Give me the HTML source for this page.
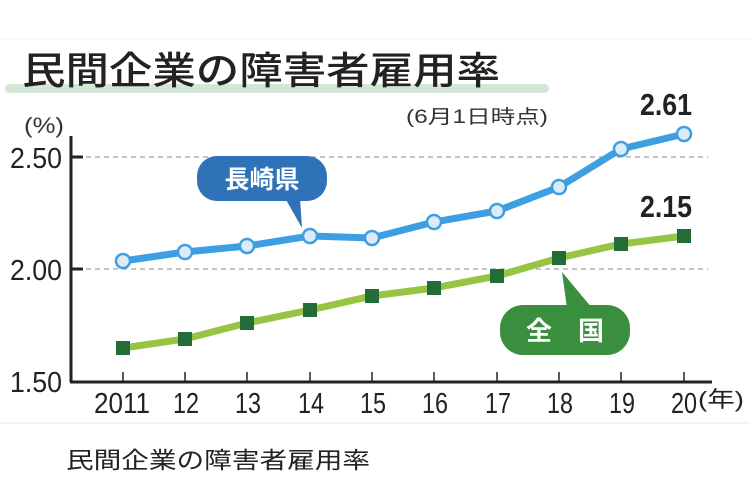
<!DOCTYPE html>
<html><head><meta charset="utf-8"><style>
html,body{margin:0;padding:0;background:#fff;width:750px;height:504px;overflow:hidden}
svg{display:block}
text{font-family:"Liberation Sans","Noto Sans CJK JP",sans-serif}
</style></head><body>
<svg width="750" height="504" viewBox="0 0 750 504" xmlns="http://www.w3.org/2000/svg">
<line x1="0" y1="39" x2="750" y2="39" stroke="#f0f0f0" stroke-width="1"/>
<line x1="0" y1="423" x2="750" y2="423" stroke="#f0f0f0" stroke-width="1.5"/>
<rect x="5" y="84" width="544" height="9" rx="4.5" fill="#d6e6d6"/>
<text x="22" y="84" font-size="38" font-weight="500" fill="#222" font-family="Noto Sans CJK JP, sans-serif" textLength="478" lengthAdjust="spacingAndGlyphs">民間企業の障害者雇用率</text>
<text x="406" y="123" font-size="19" fill="#333" font-family="Noto Sans CJK JP, sans-serif" textLength="142" lengthAdjust="spacingAndGlyphs">(6月1日時点)</text>
<text x="24" y="133" font-size="22" fill="#333" textLength="40" lengthAdjust="spacingAndGlyphs">(%)</text>
<g stroke="#888" stroke-width="1" stroke-dasharray="5,4">
<line x1="86" y1="157" x2="708" y2="157"/>
<line x1="86" y1="269" x2="708" y2="269"/>
</g>
<g stroke="#222" stroke-width="3" fill="none">
<line x1="71" y1="136" x2="71" y2="382"/>
<line x1="70" y1="382" x2="712" y2="382"/>
<line x1="71" y1="157" x2="83" y2="157"/>
<line x1="71" y1="269" x2="83" y2="269"/>
</g>
<g stroke="#222" stroke-width="1.5">
<line x1="123" y1="382" x2="123" y2="372"/><line x1="185" y1="382" x2="185" y2="372"/><line x1="247" y1="382" x2="247" y2="372"/><line x1="310" y1="382" x2="310" y2="372"/><line x1="372" y1="382" x2="372" y2="372"/><line x1="434" y1="382" x2="434" y2="372"/><line x1="497" y1="382" x2="497" y2="372"/><line x1="559" y1="382" x2="559" y2="372"/><line x1="621" y1="382" x2="621" y2="372"/><line x1="684" y1="382" x2="684" y2="372"/>
</g>
<g font-size="29" fill="#222" text-anchor="end">
<text x="62" y="168" textLength="52" lengthAdjust="spacingAndGlyphs">2.50</text>
<text x="62" y="280" textLength="52" lengthAdjust="spacingAndGlyphs">2.00</text>
<text x="62" y="392" textLength="52" lengthAdjust="spacingAndGlyphs">1.50</text>
</g>
<g font-size="29" fill="#222" text-anchor="middle">
<text x="122" y="413" textLength="56" lengthAdjust="spacingAndGlyphs">2011</text>
<text x="186" y="413" textLength="26" lengthAdjust="spacingAndGlyphs">12</text>
<text x="248" y="413" textLength="26" lengthAdjust="spacingAndGlyphs">13</text>
<text x="311" y="413" textLength="26" lengthAdjust="spacingAndGlyphs">14</text>
<text x="373" y="413" textLength="26" lengthAdjust="spacingAndGlyphs">15</text>
<text x="435" y="413" textLength="26" lengthAdjust="spacingAndGlyphs">16</text>
<text x="498" y="413" textLength="26" lengthAdjust="spacingAndGlyphs">17</text>
<text x="560" y="413" textLength="26" lengthAdjust="spacingAndGlyphs">18</text>
<text x="622" y="413" textLength="26" lengthAdjust="spacingAndGlyphs">19</text>
<text x="684" y="413" textLength="26" lengthAdjust="spacingAndGlyphs">20</text>
</g>
<text x="698" y="407" font-size="22" fill="#222" font-family="Noto Sans CJK JP, sans-serif" textLength="46" lengthAdjust="spacingAndGlyphs">(年)</text>
<polyline fill="none" stroke="#97c443" stroke-width="7" points="123,348 185,339 247,323 310,310 372,296 434,288 497,276 559,258 621,244 684,236"/>
<g fill="#236b37">
<rect x="116" y="341" width="14" height="14"/><rect x="178" y="332" width="14" height="14"/><rect x="240" y="316" width="14" height="14"/><rect x="303" y="303" width="14" height="14"/><rect x="365" y="289" width="14" height="14"/><rect x="427" y="281" width="14" height="14"/><rect x="490" y="269" width="14" height="14"/><rect x="552" y="251" width="14" height="14"/><rect x="614" y="237" width="14" height="14"/><rect x="677" y="229" width="14" height="14"/>
</g>
<polyline fill="none" stroke="#3d9ee2" stroke-width="7" points="123,261 185,252 247,246 310,236 372,238 434,222 497,211 559,187 621,149 684,134"/>
<g fill="#dcebf8" stroke="#3d9ee2" stroke-width="2.5">
<circle cx="123" cy="261" r="7"/><circle cx="185" cy="252" r="7"/><circle cx="247" cy="246" r="7"/><circle cx="310" cy="236" r="7"/><circle cx="372" cy="238" r="7"/><circle cx="434" cy="222" r="7"/><circle cx="497" cy="211" r="7"/><circle cx="559" cy="187" r="7"/><circle cx="621" cy="149" r="7"/><circle cx="684" cy="134" r="7"/>
</g>
<g font-size="31" font-weight="bold" fill="#222" text-anchor="middle">
<text x="666" y="115" textLength="52" lengthAdjust="spacingAndGlyphs">2.61</text>
<text x="666" y="217" textLength="52" lengthAdjust="spacingAndGlyphs">2.15</text>
</g>
<path d="M285,198 L302,228 L300,198 Z" fill="#2f72b8"/>
<rect x="197" y="156" width="130" height="45" rx="20" fill="#2f72b8"/>
<text x="262" y="188" font-size="25" font-weight="bold" fill="#fff" text-anchor="middle" font-family="Noto Sans CJK JP, sans-serif">長崎県</text>
<path d="M562,272 L567,308 L592,308 Z" fill="#3a8f3e"/>
<rect x="500" y="305" width="130" height="50" rx="23" fill="#3a8f3e"/>
<text x="565" y="340" font-size="26" font-weight="bold" fill="#fff" text-anchor="middle" font-family="Noto Sans CJK JP, sans-serif">全　国</text>
<text x="66" y="468" font-size="23" fill="#222" font-family="Noto Sans CJK JP, sans-serif" textLength="304" lengthAdjust="spacingAndGlyphs">民間企業の障害者雇用率</text>
</svg>
</body></html>
